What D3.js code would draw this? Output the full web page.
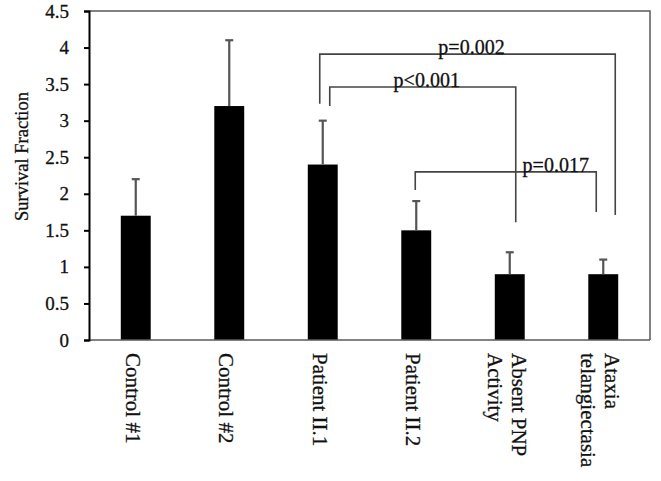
<!DOCTYPE html>
<html>
<head>
<meta charset="utf-8">
<script src="https://cdn.jsdelivr.net/npm/d3@7"></script>
<style>
  body { margin: 0; background: #fff; }
  text { font-family: "Liberation Serif", "Times New Roman", serif; fill: #111; stroke: #111; stroke-width: 0.3px; }
</style>
</head>
<body>
<script>
// chart data
const categories = ['Control #1', 'Control #2', 'Patient II.1', 'Patient II.2', 'Absent PNP Activity', 'Ataxia telangiectasia'];
const tickLabelLines = [['Control #1'], ['Control #2'], ['Patient II.1'], ['Patient II.2'], ['Absent PNP', 'Activity'], ['Ataxia', 'telangiectasia']];
const survival = [1.7, 3.2, 2.4, 1.5, 0.9, 0.9];
const errorUp = [0.5, 0.9, 0.6, 0.4, 0.3, 0.2];
const yTicks = [0, 0.5, 1, 1.5, 2, 2.5, 3, 3.5, 4, 4.5];

// significance brackets (heights in data units)
const bracketLabels = ['p=0.002', 'p<0.001', 'p=0.017'];
const bracketFrom = ['Patient II.1', 'Patient II.1', 'Patient II.2'];
const bracketTo = ['Ataxia telangiectasia', 'Absent PNP Activity', 'Ataxia telangiectasia'];
const bracketTop = [3.91, 3.46, 2.30];
const bracketLeftEnd = [3.23, 3.20, 2.05];
const bracketRightEnd = [1.71, 1.61, 1.75];

const width = 661, height = 481;
const margin = {top: 11, right: 11, bottom: 141, left: 89};

const svg = d3.select('body').append('svg')
  .attr('width', width)
  .attr('height', height);

const x = d3.scaleBand()
  .domain(categories)
  .range([margin.left, width - margin.right])
  .paddingInner(0.68)
  .paddingOuter(0.34);

const y = d3.scaleLinear()
  .domain([0, 4.5])
  .range([height - margin.bottom, margin.top]);

// frame (top + right)
svg.append('path')
  .attr('d', `M${margin.left},${y(4.5)}H${width - margin.right}V${y(0)}`)
  .attr('fill', 'none')
  .attr('stroke', '#5a5a5a')
  .attr('stroke-width', 1.5);

// bars
svg.selectAll('.bar')
  .data(categories)
  .enter()
  .append('rect')
  .attr('class', 'bar')
  .attr('x', d => x(d))
  .attr('width', x.bandwidth())
  .attr('y', (d, i) => y(survival[i]))
  .attr('height', (d, i) => y(0) - y(survival[i]))
  .attr('fill', '#000');

// error bars
const cx = d => x(d) + x.bandwidth() / 2;
const err = svg.append('g')
  .attr('stroke', '#555')
  .attr('stroke-width', 2.2);
categories.forEach((c, i) => {
  err.append('line')
    .attr('x1', cx(c)).attr('x2', cx(c))
    .attr('y1', y(survival[i])).attr('y2', y(survival[i] + errorUp[i]));
  err.append('line')
    .attr('x1', cx(c) - 4).attr('x2', cx(c) + 4)
    .attr('y1', y(survival[i] + errorUp[i])).attr('y2', y(survival[i] + errorUp[i]));
});

// bottom axis line
svg.append('line')
  .attr('x1', margin.left).attr('x2', width - margin.right)
  .attr('y1', y(0)).attr('y2', y(0))
  .attr('stroke', '#5a5a5a')
  .attr('stroke-width', 1.5);

// left axis
const yAxis = svg.append('g')
  .attr('transform', `translate(${margin.left},0)`)
  .call(d3.axisLeft(y).tickValues(yTicks).tickSize(5).tickPadding(15).tickFormat(d3.format('')));
yAxis.select('.domain').attr('stroke', '#000').attr('stroke-width', 2);
yAxis.selectAll('.tick line').attr('stroke', '#000').attr('stroke-width', 2);
yAxis.selectAll('.tick text')
  .style('font-size', '19px')
  .attr('font-family', null);

svg.append('text')
  .attr('transform', `translate(28,${(y(0) + y(4.5)) / 2 - 19}) rotate(-90)`)
  .attr('text-anchor', 'middle')
  .style('font-size', '18.5px')
  .text('Survival Fraction');

// category labels, rotated
const lineH = 24;
categories.forEach((c, i) => {
  const lines = tickLabelLines[i];
  const t = svg.append('text')
    .attr('transform', `translate(${cx(c)},353) rotate(90)`)
    .style('font-size', '21px');
  lines.forEach((s, j) => {
    t.append('tspan')
      .attr('x', 0)
      .attr('y', 10 - (lines.length - 1) * lineH / 2 + j * lineH)
      .text(s);
  });
});

// brackets
const endOffsetL = [-3, 7, -1];
const endOffsetR = [12, 6, -7];
const labelShift = [4, 4, 50];
const br = svg.append('g');
bracketLabels.forEach((lab, i) => {
  const x1 = cx(bracketFrom[i]) + endOffsetL[i];
  const x2 = cx(bracketTo[i]) + endOffsetR[i];
  br.append('path')
    .attr('d', `M${x1},${y(bracketLeftEnd[i])}V${y(bracketTop[i])}H${x2}V${y(bracketRightEnd[i])}`)
    .attr('fill', 'none')
    .attr('stroke', '#444')
    .attr('stroke-width', 1.6);
  br.append('text')
    .attr('x', (x1 + x2) / 2 + labelShift[i])
    .attr('y', y(bracketTop[i]))
    .attr('text-anchor', 'middle')
    .style('font-size', '20px')
    .text(lab);
});
</script>
</body>
</html>
